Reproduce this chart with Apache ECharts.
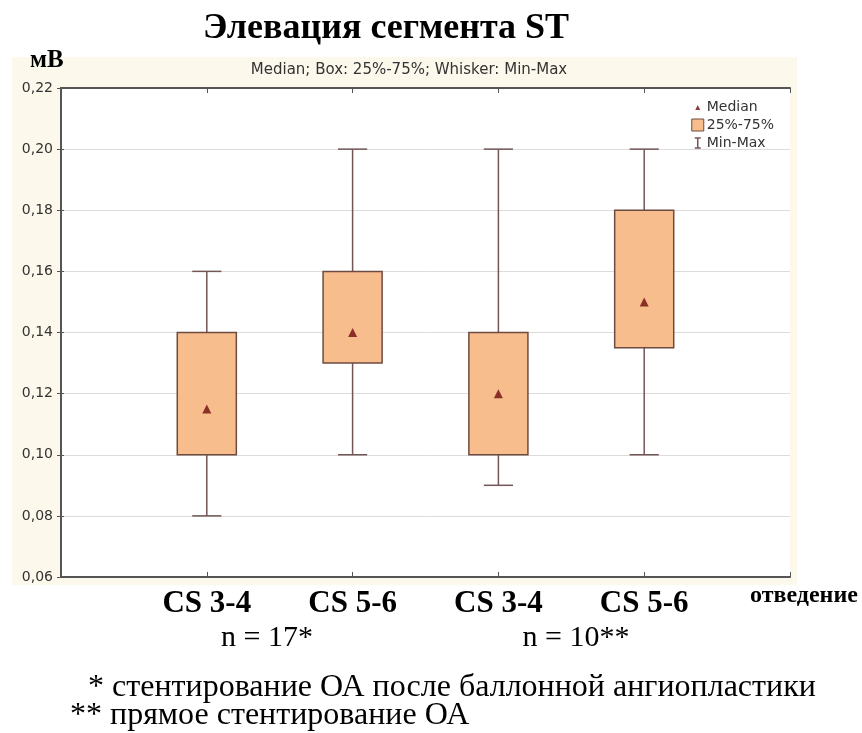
<!DOCTYPE html>
<html>
<head>
<meta charset="utf-8">
<script src="https://cdn.jsdelivr.net/npm/echarts@6/dist/echarts.min.js"></script>
<style>
  html, body { margin: 0; padding: 0; background: #fff; }
  #chart { width: 862px; height: 733px; }
</style>
</head>
<body>
<div id="chart"></div>
<script>
// --- data ---
const categories = ['CS 3-4', 'CS 5-6', 'CS 3-4', 'CS 5-6'];
const positions = [1, 2, 3, 4];
const minVals = [0.08, 0.10, 0.09, 0.10];
const q1Vals = [0.10, 0.13, 0.10, 0.135];
const medianVals = [0.115, 0.14, 0.12, 0.15];
const q3Vals = [0.14, 0.16, 0.14, 0.18];
const maxVals = [0.16, 0.20, 0.20, 0.20];
const groupLabels = ['n = 17*', 'n = 10**'];
const footnotes = [
  '* стентирование ОА после баллонной ангиопластики',
  '** прямое стентирование ОА',
];

const BOX_FILL = '#f8bd8d';
const BOX_BORDER = '#6e4b40';
const WHISKER = '#735656';
const MEDIAN = '#6e0c0c';
const SANS = 'DejaVu Sans';
const SERIF = 'Liberation Serif';

const whiskerData = positions.map((p, i) => [p, minVals[i], maxVals[i]]);
const boxData = positions.map((p, i) => [p, q1Vals[i], q3Vals[i]]);
const medianData = positions.map((p, i) => [p, medianVals[i]]);

const chart = echarts.init(document.getElementById('chart'));

function renderWhisker(params, api) {
  const x = api.value(0);
  const lo = api.coord([x, api.value(1)]);
  const hi = api.coord([x, api.value(2)]);
  const half = api.size([0.2, 0])[0] / 2;
  const style = { stroke: WHISKER, lineWidth: 1.5 };
  return {
    type: 'group',
    children: [
      { type: 'line', shape: { x1: lo[0], y1: lo[1], x2: hi[0], y2: hi[1] }, style },
      { type: 'line', shape: { x1: lo[0] - half, y1: lo[1], x2: lo[0] + half, y2: lo[1] }, style },
      { type: 'line', shape: { x1: hi[0] - half, y1: hi[1], x2: hi[0] + half, y2: hi[1] }, style },
    ],
  };
}

function renderBox(params, api) {
  const x = api.value(0);
  const lo = api.coord([x, api.value(1)]);
  const hi = api.coord([x, api.value(2)]);
  const w = api.size([0.405, 0])[0];
  return {
    type: 'rect',
    shape: { x: lo[0] - w / 2, y: hi[1], width: w, height: lo[1] - hi[1] },
    style: { fill: BOX_FILL, stroke: BOX_BORDER, lineWidth: 1.5 },
  };
}

const axisLine = { show: true, lineStyle: { color: '#555', width: 2 } };

const option = {
  animation: false,
  grid: {
    left: 61, right: 72, top: 88, bottom: 156,
    show: true, backgroundColor: '#fff', borderWidth: 0,
  },
  legend: {
    left: 686, top: 95, orient: 'vertical',
    itemGap: 4, itemWidth: 12, itemHeight: 12,
    selectedMode: false,
    textStyle: { fontFamily: SANS, fontSize: 14, color: '#333', padding: [0, 0, 0, -2] },
    data: [
      { name: 'Median', icon: 'path://M0,0 M12,12 M3.5,9 L6,4 L8.5,9 Z', itemStyle: { color: MEDIAN } },
      { name: '25%-75%', icon: 'rect', itemStyle: { color: BOX_FILL, borderColor: BOX_BORDER, borderWidth: 1 } },
      { name: 'Min-Max', icon: 'path://M0,0 M12,12 M3,1 L9,1 M6,1 L6,11 M3,11 L9,11', itemStyle: { color: 'transparent', borderColor: WHISKER, borderWidth: 1.5 } },
    ],
  },
  xAxis: [
    {
      type: 'value', min: 0, max: 5, interval: 1,
      axisLine,
      axisTick: { show: true, inside: true, length: 5, lineStyle: { color: '#555' } },
      splitLine: { show: false },
      axisLabel: {
        margin: 11,
        fontFamily: SERIF, fontWeight: 'bold', fontSize: 31, color: '#000',
        formatter: (v) => categories[v - 1] || '',
      },
    },
    {
      type: 'value', min: 0, max: 5, interval: 1, position: 'top',
      axisLine,
      axisTick: { show: true, inside: true, length: 5, lineStyle: { color: '#555' } },
      splitLine: { show: false },
      axisLabel: { show: false },
    },
  ],
  yAxis: [
    {
      type: 'value', min: 0.06, max: 0.22, interval: 0.02,
      axisLine,
      axisTick: { show: true, length: 4, lineStyle: { color: '#555' } },
      splitLine: { show: true, lineStyle: { color: '#dcdcdc', width: 1 } },
      axisLabel: {
        margin: 8,
        fontFamily: SANS, fontSize: 14, color: '#333',
        formatter: (v) => v.toFixed(2).replace('.', ','),
      },
    },
    {
      type: 'value', min: 0.06, max: 0.22, interval: 0.02, position: 'right',
      axisLine,
      axisTick: { show: true, length: 3, lineStyle: { color: '#555' } },
      splitLine: { show: false },
      axisLabel: { show: false },
    },
  ],
  series: [
    { name: 'Min-Max', type: 'custom', renderItem: renderWhisker, data: whiskerData, z: 2 },
    { name: '25%-75%', type: 'custom', renderItem: renderBox, data: boxData, z: 3 },
    {
      name: 'Median', type: 'scatter', data: medianData, z: 4,
      symbol: 'triangle', symbolSize: [9, 9],
      itemStyle: { color: MEDIAN },
    },
  ],
  graphic: [
    { type: 'rect', z: -10, shape: { x: 12, y: 57, width: 785, height: 528 }, style: { fill: '#fcf8ec' } },
    {
      type: 'text', x: 386, y: 29,
      style: { text: 'Элевация сегмента ST', font: 'bold 36px "Liberation Serif"', fill: '#000', align: 'center', verticalAlign: 'middle' },
    },
    { type: 'text', x: 30, y: 48, style: { text: 'мВ', font: 'bold 25px "Liberation Serif"', fill: '#000' } },
    {
      type: 'text', x: 409, y: 70,
      style: { text: 'Median; Box: 25%-75%; Whisker: Min-Max', font: '15px "DejaVu Sans"', fill: '#333', align: 'center', verticalAlign: 'middle' },
    },
    { type: 'text', x: 750, y: 584, style: { text: 'отведение', font: 'bold 24px "Liberation Serif"', fill: '#000' } },
    { type: 'text', x: 267, y: 638, style: { text: groupLabels[0], font: '30px "Liberation Serif"', fill: '#000', align: 'center', verticalAlign: 'middle' } },
    { type: 'text', x: 576, y: 638, style: { text: groupLabels[1], font: '30px "Liberation Serif"', fill: '#000', align: 'center', verticalAlign: 'middle' } },
    { type: 'text', x: 88, y: 688, style: { text: footnotes[0], font: '32px "Liberation Serif"', fill: '#000', verticalAlign: 'middle' } },
    { type: 'text', x: 70, y: 716, style: { text: footnotes[1], font: '32px "Liberation Serif"', fill: '#000', verticalAlign: 'middle' } },
  ],
};

chart.setOption(option);
</script>
</body>
</html>
